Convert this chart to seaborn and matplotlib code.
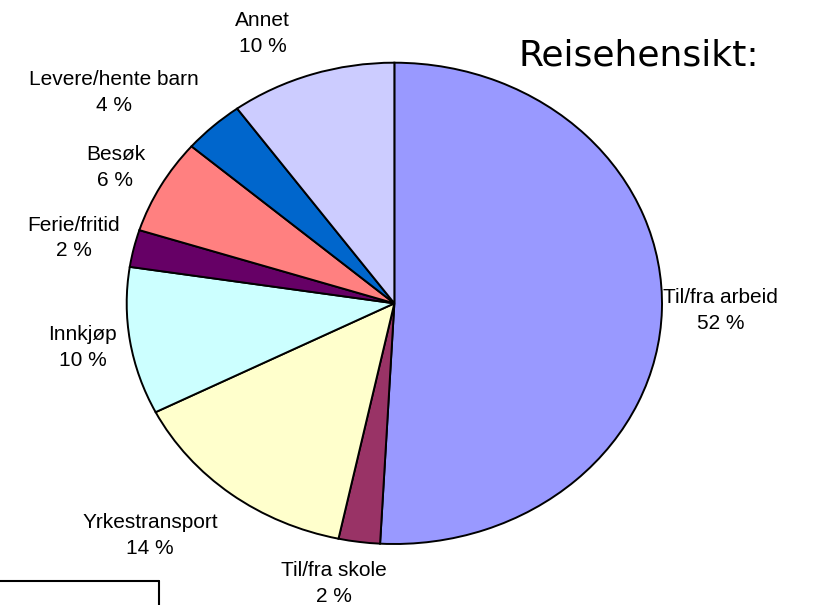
import numpy as np
import matplotlib
matplotlib.use("Agg")
import matplotlib.pyplot as plt
import seaborn as sns
from matplotlib.lines import Line2D

# Reisehensikt - andel av reiser etter formål
categories = ["Til/fra arbeid", "Til/fra skole", "Yrkestransport", "Innkjøp",
              "Ferie/fritid", "Besøk", "Levere/hente barn", "Annet"]
shares = [50.9, 2.5, 14.2, 9.9, 2.5, 6.4, 3.7, 10.0]
pct_labels = ["52 %", "2 %", "14 %", "10 %", "2 %", "6 %", "4 %", "10 %"]
colors = ["#9999FF", "#993366", "#FFFFCC", "#CCFFFF",
          "#660066", "#FF8080", "#0066CC", "#CCCCFF"]

sns.set_style("white")
plt.rcParams["font.family"] = ["Liberation Sans", "DejaVu Sans"]
plt.rcParams["text.color"] = "black"

W, H = 814, 605
fig = plt.figure(figsize=(W / 100, H / 100), dpi=100)

# pie is stretched a bit wider than tall, like the original
ax = fig.add_axes([126.7 / W, 1 - 544 / H, (662 - 126.7) / W, (544 - 62.7) / H])
wedges, _ = ax.pie(shares, colors=colors, startangle=90, counterclock=False,
                   wedgeprops=dict(edgecolor="black", linewidth=1.4, clip_on=False))
ax.set_aspect("auto")
ax.set_xlim(-1, 1)
ax.set_ylim(-1, 1)
ax.axis("off")

# small nudges (pixels) for label placement
nudges = [(-20, 0), (-22, 0), (0, -4), (8, -3), (7, 6), (3, 9), (0, -3), (-15, 0)]

for w, name, pct, (dx, dy) in zip(wedges, categories, pct_labels, nudges):
    mid = np.deg2rad((w.theta1 + w.theta2) / 2)
    c, s = np.cos(mid), np.sin(mid)
    ha = "center" if abs(c) < 0.3 else ("left" if c > 0 else "right")
    va = "bottom" if s > 0.6 else ("top" if s < -0.6 else "center")
    ax.annotate(f"{name}\n{pct}", xy=(1.08 * c, 1.08 * s), xytext=(dx, dy),
                textcoords="offset pixels", ha=ha, va=va, annotation_clip=False,
                multialignment="center", fontsize=15, linespacing=1.45)

fig.text(518 / W, 1 - 65 / H, "Reisehensikt:", fontsize=26,
         family="DejaVu Sans", ha="left", va="baseline")

# cut-off box in the lower left corner
fig.add_artist(Line2D([0, 159 / W], [1 - 581 / H, 1 - 581 / H], color="black",
                      lw=1.5, transform=fig.transFigure))
fig.add_artist(Line2D([159 / W, 159 / W], [1 - 581 / H, 0], color="black",
                      lw=1.5, transform=fig.transFigure))

fig.savefig("out.png", dpi=100)
